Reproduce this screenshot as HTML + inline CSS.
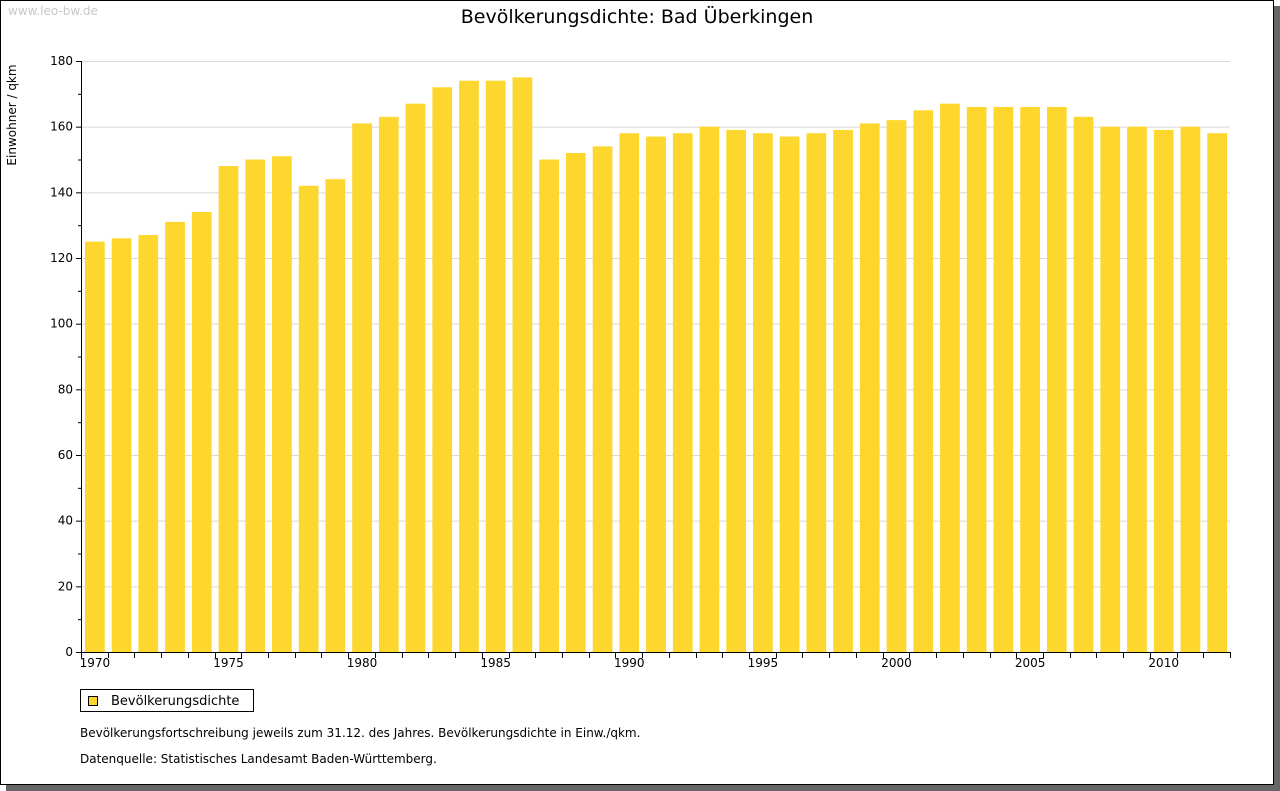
<!DOCTYPE html>
<html><head><meta charset="utf-8"><style>
body{margin:0;background:#fff;}
svg{display:block;font-family:"DejaVu Sans","Liberation Sans",sans-serif;}
</style></head><body>
<svg width="1280" height="791">
<rect x="6" y="6" width="1274" height="785" fill="#666"/>
<rect x="0.5" y="0.5" width="1273" height="784" fill="#fff" stroke="#000"/>
<text x="8" y="15" font-size="12" fill="#c8c8c8">www.leo-bw.de</text>
<text x="637" y="23" font-size="19" text-anchor="middle" fill="#000">Bevölkerungsdichte: Bad Überkingen</text>
<text transform="translate(16,115) rotate(-90)" font-size="12" text-anchor="middle">Einwohner / qkm</text>
<g id="grid"></g><g id="bars"></g><g id="axes"></g>
<rect x="88.5" y="696.5" width="9" height="9" fill="#fdd72e" stroke="#000"/>
<rect x="80.5" y="689.5" width="173" height="22" fill="none" stroke="#000"/>
<text x="111" y="705" font-size="13">Bevölkerungsdichte</text>
<text x="80" y="737" font-size="12">Bevölkerungsfortschreibung jeweils zum 31.12. des Jahres. Bevölkerungsdichte in Einw./qkm.</text>
<text x="80" y="763" font-size="12">Datenquelle: Statistisches Landesamt Baden-Württemberg.</text>
</svg>
<script>
const years=[1970,1971,1972,1973,1974,1975,1976,1977,1978,1979,1980,1981,1982,1983,1984,1985,1986,1987,1988,1989,1990,1991,1992,1993,1994,1995,1996,1997,1998,1999,2000,2001,2002,2003,2004,2005,2006,2007,2008,2009,2010,2011,2012];
const values=[125,126,127,131,134,148,150,151,142,144,161,163,167,172,174,174,175,150,152,154,158,157,158,160,159,158,157,158,159,161,162,165,167,166,166,166,166,163,160,160,159,160,158];
const yTicks=[0,20,40,60,80,100,120,140,160,180];
const NS='http://www.w3.org/2000/svg';
const x0=81,x1=1230,y0=652,yTop=61,yMax=180;
const step=(x1-x0)/years.length;
const Y=v=>y0-(v/yMax)*(y0-yTop);
const X=i=>x0+i*step;
function mk(t,a,p){const e=document.createElementNS(NS,t);for(const k in a)e.setAttribute(k,a[k]);p.appendChild(e);return e;}
const grid=document.getElementById('grid'),bars=document.getElementById('bars'),axes=document.getElementById('axes');
yTicks.forEach(v=>{
 if(v>0){const g=mk('line',{x1:x0,x2:x1,y1:Y(v)+0.5,y2:Y(v)+0.5,stroke:'#d8d8d8'},grid);
 
 }
 const t=mk('text',{x:x0-8,y:Y(v)+4,'font-size':12,'text-anchor':'end'},axes);t.textContent=v;
 
 
 mk('line',{x1:x0-5,x2:x0,y1:Y(v)+0.5,y2:Y(v)+0.5,stroke:'#000'},axes);
 if(v<yMax)mk('line',{x1:x0-3,x2:x0,y1:Y(v+10)+0.5,y2:Y(v+10)+0.5,stroke:'#000'},axes);
});
values.forEach((v,i)=>{
 const r=mk('rect',{x:X(i)+4,y:Y(v),width:step-7,height:y0-Y(v),fill:'#fdd72e'},bars);
 
 
});
mk('line',{x1:x0+0.5,x2:x0+0.5,y1:yTop,y2:y0+6,stroke:'#000'},axes);
mk('line',{x1:x0,x2:x1+1,y1:y0+0.5,y2:y0+0.5,stroke:'#000'},axes);
for(let i=0;i<=years.length;i++){const xx=Math.round(X(i))+0.5;mk('line',{x1:xx,x2:xx,y1:y0,y2:y0+6,stroke:'#000'},axes);}
years.forEach((yr,i)=>{if(yr%5===0){const t=mk('text',{x:X(i)+step/2+0.5,y:y0+15,'font-size':12,'text-anchor':'middle'},axes);t.textContent=yr;
 
 }});
</script>
</body></html>
